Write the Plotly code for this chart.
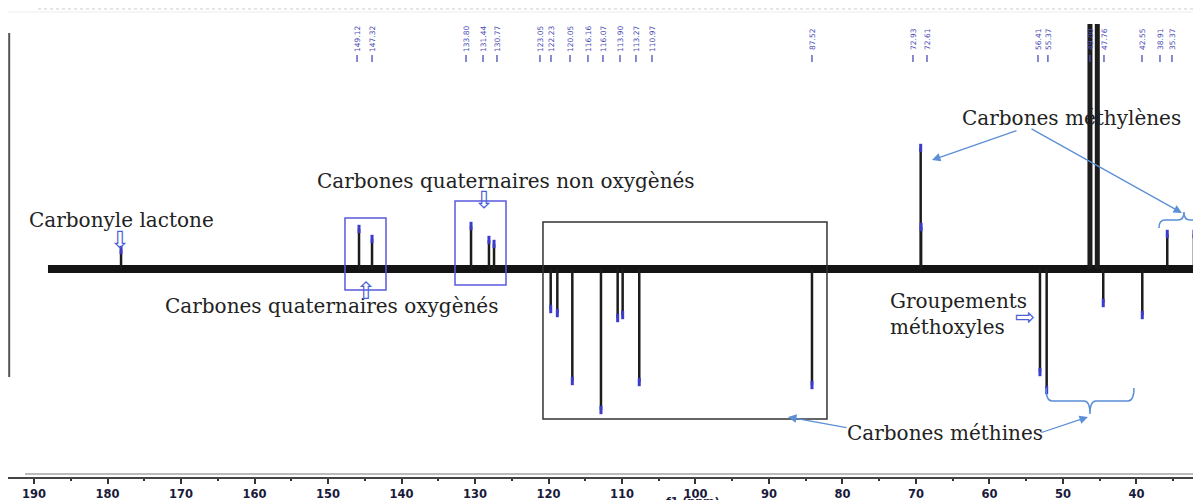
import plotly.graph_objects as go

# ---------------- data ----------------
tick_values = [190, 180, 170, 160, 150, 140, 130, 120, 110, 100, 90, 80, 70, 60, 50, 40]
tick_labels = [str(v) for v in tick_values]

# peaks: chemical shift (ppm) and intensity (arbitrary units, + up / - down)
peak_ppm = [178.16, 145.78, 144.01, 130.54, 128.10, 127.41,
            119.70, 118.80, 116.76, 112.86, 110.59, 109.91, 107.65, 84.15,
            69.36, 69.30, 53.13, 52.22, 46.33, 45.33, 44.52, 39.21, 35.81, 32.18]
peak_int = [19, 40, 30, 43, 29, 25,
            -40, -44, -112, -141, -49, -46, -113, -116,
            121, 42, -103, -121, 245, 245, -34, -46, 35, 35]

# peak pick labels at the top
label_texts = ["149.12", "147.32", "133.80", "131.44", "130.77", "123.05", "122.23",
               "120.05", "116.16", "116.07", "113.90", "113.27", "110.97", "87.52",
               "72.93", "72.61", "56.41", "55.37", "49.00", "47.76", "42.55", "38.91", "35.37"]
label_ppm = [146.05, 144.01, 131.22, 128.91, 127.01, 121.16, 119.66, 117.07, 114.63,
             112.59, 110.27, 108.10, 105.92, 84.15, 70.41, 68.50, 53.40, 52.05,
             46.33, 44.42, 39.25, 36.80, 35.17]

baseline_ppm = [188.1, 31.2]
baseline_int = [0, 0]

# ---------------- build figure ----------------
fig = go.Figure()

# baseline (noise band)
fig.add_trace(go.Scatter(x=baseline_ppm, y=baseline_int, mode="lines",
                         line=dict(color="#141414", width=8), hoverinfo="skip"))

def stems(ppms, ints):
    xs, ys = [], []
    for p, v in zip(ppms, ints):
        xs += [p, p, None]
        ys += [0, v, None]
    return xs, ys

small = [(p, v) for p, v in zip(peak_ppm, peak_int) if abs(v) < 200]
tall = [(p, v) for p, v in zip(peak_ppm, peak_int) if abs(v) >= 200]

xs, ys = stems([p for p, _ in small], [v for _, v in small])
fig.add_trace(go.Scatter(x=xs, y=ys, mode="lines",
                         line=dict(color="#1c1c1c", width=2.5), hoverinfo="skip"))
xs, ys = stems([p for p, _ in tall], [v for _, v in tall])
fig.add_trace(go.Scatter(x=xs, y=ys, mode="lines",
                         line=dict(color="#1c1c1c", width=5), hoverinfo="skip"))

# blue tips
fig.add_trace(go.Scatter(x=[p for p, _ in small], y=[v for _, v in small], mode="markers",
                         marker=dict(symbol="line-ns", size=6,
                                     line=dict(color="#3b3bcc", width=3)),
                         hoverinfo="skip"))

# label connectors
cx, cy = [], []
for p in label_ppm:
    cx += [p, p, None]
    cy += [214, 207, None]
fig.add_trace(go.Scatter(x=cx, y=cy, mode="lines",
                         line=dict(color="#4b4bb5", width=1.3), hoverinfo="skip"))

annotations = []
for t, p in zip(label_texts, label_ppm):
    annotations.append(dict(x=p, y=230, xref="x", yref="y", text=t, showarrow=False,
                            textangle=-90, font=dict(family="DejaVu Sans", size=7.5, color="#4b4bb5"),
                            xanchor="center", yanchor="middle"))

serif = dict(family="DejaVu Serif", size=20, color="#222222")
blue_arrow = dict(family="DejaVu Sans", size=24, color="#4a5fd8")

def txt(x, y, t, font=serif, xanchor="center", align="center"):
    annotations.append(dict(x=x, y=y, xref="x", yref="y", text=t, showarrow=False,
                            font=font, xanchor=xanchor, yanchor="middle", align=align))

txt(178.1, 49, "Carbonyle lactone")
txt(178.3, 29, "⇩", blue_arrow)
txt(125.85, 88, "Carbones quaternaires non oxygènés")
txt(128.8, 69, "⇩", blue_arrow)
txt(149.46, -37, "Carbones quaternaires oxygènés")
txt(144.8, -22, "⇧", blue_arrow)
txt(48.85, 151, "Carbones méthylènes")
txt(73.81, -45, "Groupements<br>méthoxyles", xanchor="left", align="left")
txt(55.1, -48, "⇨", blue_arrow)
txt(66.06, -164, "Carbones méthines")

arrow_col = "#5b8fd6"
def arr(x0, y0, x1, y1):
    annotations.append(dict(x=x1, y=y1, ax=x0, ay=y0, xref="x", yref="y", axref="x", ayref="y",
                            text="", showarrow=True, arrowhead=2, arrowsize=1.3, arrowwidth=1.3,
                            arrowcolor=arrow_col))

arr(56.12, 139, 67.82, 109)
arr(54.49, 141, 33.81, 56)
arr(79.25, -159, 87.41, -148)
arr(53.13, -164, 46.6, -148)

# axis title (clipped at bottom)
annotations.append(dict(x=685 / 1193, y=-0.034, xref="paper", yref="paper", text="f1 (ppm)",
                        showarrow=False, font=dict(family="DejaVu Sans", size=11, color="#1a1a3a",
                                                   weight="bold"),
                        xanchor="center", yanchor="top"))

shapes = [
    # boxes
    dict(type="rect", xref="x", yref="y", x0=147.69, x1=142.11, y0=-21, y1=51,
         line=dict(color="#5a5adc", width=1.5)),
    dict(type="rect", xref="x", yref="y", x0=132.72, x1=125.78, y0=-16, y1=68,
         line=dict(color="#5a5adc", width=1.5)),
    dict(type="rect", xref="x", yref="y", x0=120.75, x1=82.11, y0=-150, y1=47,
         line=dict(color="#333333", width=1.5)),
    # braces
    dict(type="path", xref="x", yref="y",
         path="M 52.31,-119 Q 52.31,-132 51.5,-132 L 47.14,-132 Q 46.33,-132 46.33,-145 "
              "Q 46.33,-132 45.51,-132 L 41.16,-132 Q 40.34,-132 40.34,-119",
         line=dict(color=arrow_col, width=1.5)),
    dict(type="path", xref="x", yref="y",
         path="M 36.94,41 Q 36.94,49 36.12,49 L 34.35,49 Q 33.54,49 33.54,57 "
              "Q 33.54,49 32.72,49 L 30.68,49",
         line=dict(color=arrow_col, width=1.5)),
    # frame decorations
    dict(type="line", xref="paper", yref="paper", x0=30 / 1193, x1=1, y0=0.998, y1=0.998,
         line=dict(color="#cccccc", width=1, dash="dot")),
    dict(type="line", xref="paper", yref="paper", x0=0, x1=1, y0=465 / 469, y1=465 / 469,
         line=dict(color="#eeeeee", width=1)),
    dict(type="line", xref="paper", yref="paper", x0=0.001, x1=0.001, y0=444 / 469,
         y1=100 / 469, line=dict(color="#555555", width=2)),
    dict(type="line", xref="paper", yref="paper", x0=17 / 1193, x1=1, y0=3 / 469, y1=3 / 469,
         line=dict(color="#bbbbbb", width=2)),
]

fig.update_layout(
    width=1193, height=492,
    margin=dict(l=0, r=0, t=0, b=23),
    paper_bgcolor="white", plot_bgcolor="white",
    showlegend=False,
    annotations=annotations,
    shapes=shapes,
    xaxis=dict(range=[193.54, 31.22], tickvals=tick_values, ticktext=tick_labels,
               ticks="outside", ticklen=5, tickwidth=1.5, tickcolor="#333333",
               showline=True, linecolor="#444444", linewidth=1.5,
               showgrid=False, zeroline=False,
               tickfont=dict(family="DejaVu Sans", size=11.5, color="#1a1a3a", weight="bold"),
               minor=dict(dtick=5, ticks="outside", ticklen=2, tickcolor="#333333")),
    yaxis=dict(range=[-208, 261], visible=False, showgrid=False, zeroline=False),
)

fig.write_html("out.html")
